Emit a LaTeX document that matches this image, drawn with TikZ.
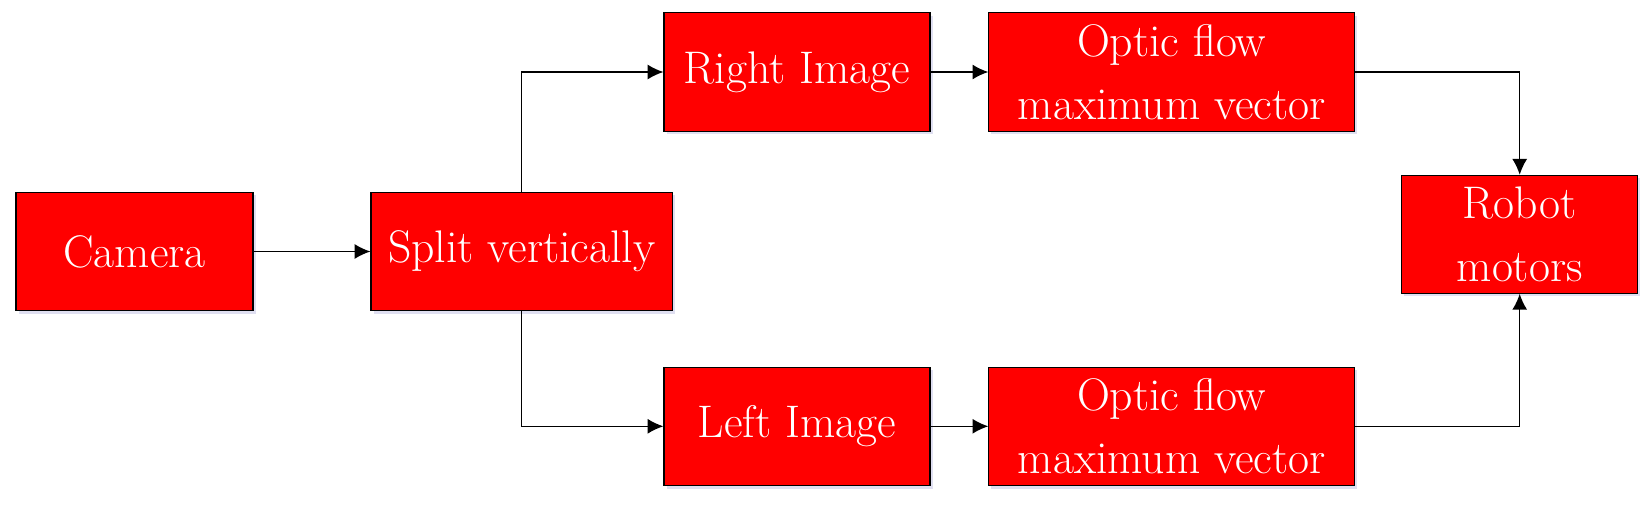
\documentclass[tikz,border=0pt]{standalone}
\usepackage{tikz}
\usetikzlibrary{shapes,arrows.meta,shadows}
\tikzstyle{block} = [rectangle, draw, line width=0.6pt, fill=red, text=white,
	text centered, align=center, minimum height=2.37cm,
	font=\fontsize{26}{36}\selectfont,
	drop shadow={shadow xshift=0.05cm, shadow yshift=-0.06cm,
		fill=blue!40!gray, opacity=0.18}]
\tikzstyle{line} = [draw, line width=0.8pt, -{Latex[length=9pt,width=8.5pt]}]

\begin{document}
\begin{tikzpicture}[node distance = 2cm, auto]
	\useasboundingbox (0,0) rectangle (32.9,10.24);

	% Place nodes
	\node [block, minimum width=4.74cm] at (2.69,5.21) (camera) {Camera};
	\node [block, right of=camera, node distance=7.745cm, minimum width=6.03cm] (split) {Split vertically};
	\node [block, minimum width=5.32cm] at (15.94,8.8) (rightimg) {Right Image};
	\node [block, right of=rightimg, node distance=7.493cm, minimum width=7.31cm] (flowR) {Optic flow\\maximum vector};
	\node [block, minimum width=5.32cm] at (15.94,1.714) (leftimg) {Left Image};
	\node [block, right of=leftimg, node distance=7.493cm, minimum width=7.31cm] (flowL) {Optic flow\\maximum vector};
	\node [block, minimum width=4.72cm, minimum height=2.36cm] at (30.394,5.554) (motors) {Robot\\motors};

	% Draw edges
	\path [line] (camera) -- (split);
	\path [line] (split.north) |- (rightimg.west);
	\path [line] (split.south) |- (leftimg.west);
	\path [line] (rightimg) -- (flowR);
	\path [line] (leftimg) -- (flowL);
	\path [line] (flowR.east) -| (motors.north);
	\path [line] (flowL.east) -| (motors.south);
\end{tikzpicture}
\end{document}
